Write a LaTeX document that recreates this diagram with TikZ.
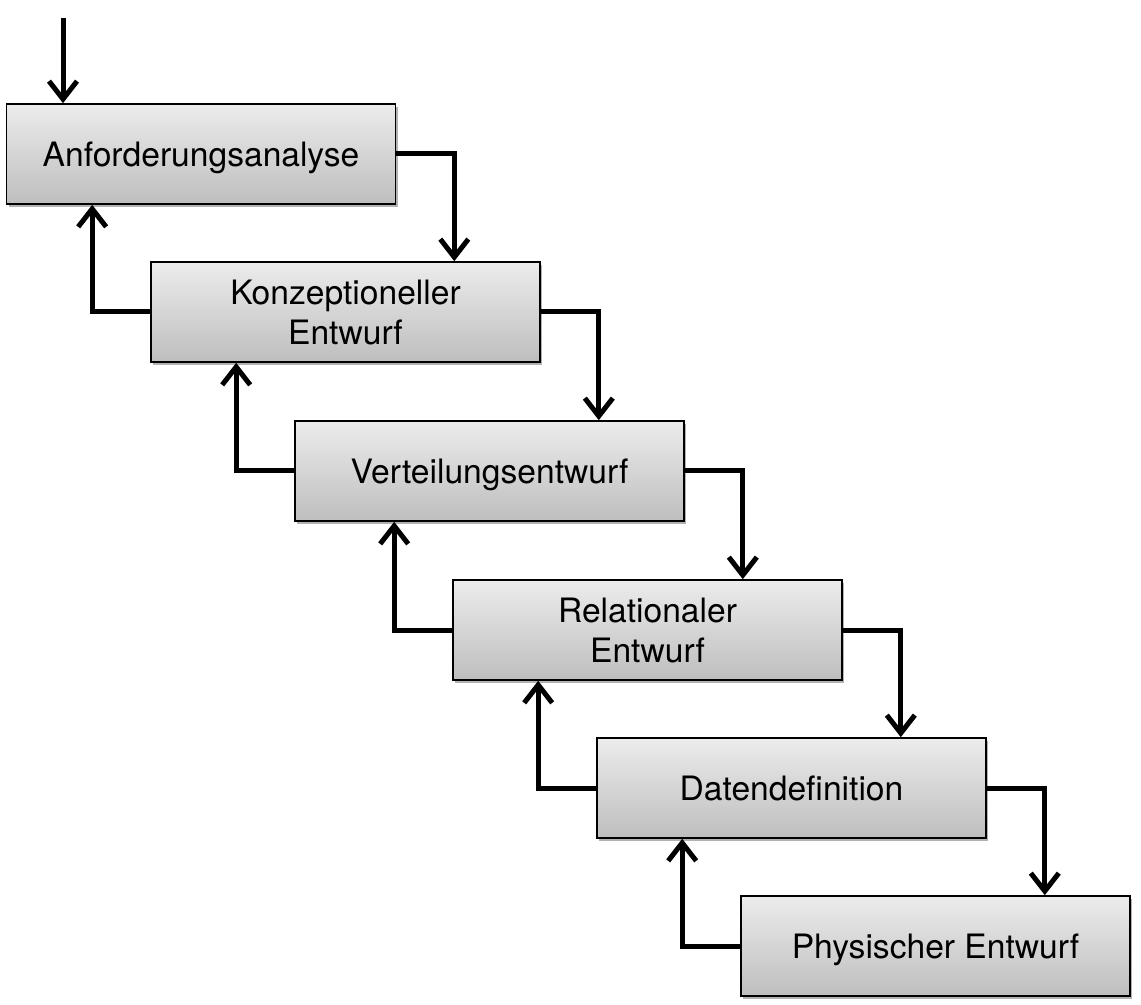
\documentclass[tikz,border=0pt]{standalone}
\usepackage{fontspec}
\setmainfont{TeX Gyre Heros}
\usetikzlibrary{arrows.meta,shadows}
\definecolor{boxtop}{RGB}{236,236,236}
\definecolor{boxbot}{RGB}{190,190,190}
\begin{document}
\begin{tikzpicture}[x=0.5pt,y=-0.5pt,
  stage/.style={rectangle, draw=black, line width=0.8pt, inner sep=0pt,
    minimum width=194.5pt, minimum height=50pt, align=center, text depth=0pt,
    top color=boxtop, bottom color=boxbot,
    drop shadow={shadow xshift=1.2pt, shadow yshift=-1.5pt, opacity=0.3, fill=black},
    font=\fontsize{16.8}{20}\selectfont},
  arr/.style={line width=2.5pt, -{Straight Barb[length=9pt,width=14pt,line width=2.5pt]}}]
\useasboundingbox (0,0) rectangle (1141,1005);
\node[stage] (a) at (201,154) {Anforderungsanalyse};
\node[stage] (b) at (345.5,312) {Konzeptioneller\\Entwurf};
\node[stage] (c) at (489.5,471) {Verteilungsentwurf};
\node[stage] (d) at (647.5,630) {Relationaler\\Entwurf};
\node[stage] (e) at (791.5,788) {Datendefinition};
\node[stage] (f) at (935.5,946) {Physischer Entwurf};
\coordinate (start) at (63,18);
\draw[arr] (start) -- (start |- a.north);
\foreach \p/\q in {a/b,b/c,c/d,d/e,e/f}{
  \draw[arr] (\p.east) -- ++(58,0) coordinate (t\p) -- (t\p |- \q.north);
  \draw[arr] (\q.west) -- ++(-58,0) coordinate (u\q) -- (u\q |- \p.south);
}
\end{tikzpicture}
\end{document}
